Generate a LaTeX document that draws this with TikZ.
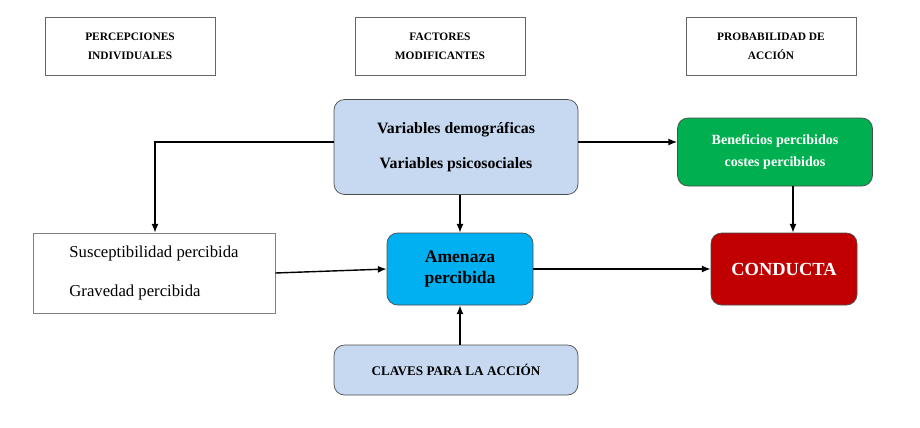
\documentclass[tikz,border=0pt]{standalone}
\usepackage{fontspec}
\setmainfont{Liberation Serif}
\usetikzlibrary{arrows.meta}
\definecolor{lblue}{RGB}{198,217,241}
\definecolor{cyanb}{RGB}{0,176,240}
\definecolor{greenb}{RGB}{0,176,80}
\definecolor{redb}{RGB}{192,0,0}
\tikzset{
  head/.style={draw=black!60,minimum width=170*0.02cm,minimum height=58*0.02cm,align=center,font=\fontsize{6.5}{11}\selectfont\bfseries},
  rbox/.style={draw=black!70,rounded corners=6pt,align=center,font=\fontsize{9}{12}\selectfont\bfseries},
  arr/.style={-{Latex[length=5pt,width=4pt]},thick}
}
\begin{document}
\begin{tikzpicture}[x=0.02cm,y=-0.02cm]
  \useasboundingbox (0,0) rectangle (920,427);
  %% headers
  \node[head] (h1) at (130,46) {PERCEPCIONES\\INDIVIDUALES};
  \node[head] (h2) at (440,46) {FACTORES\\MODIFICANTES};
  \node[head] (h3) at (771,46) {PROBABILIDAD DE\\ACCIÓN};
  %% boxes
  \node[rbox,fill=lblue,minimum width=244*0.02cm,minimum height=95*0.02cm] (dem) at (456,147)
    {Variables demográficas\\[8pt]Variables psicosociales};
  \node[rbox,fill=greenb,text=white,minimum width=195*0.02cm,minimum height=68*0.02cm,font=\fontsize{8}{12}\selectfont\bfseries] (ben) at (775,152)
    {B\textsc{eneficios percibidos}\\\textsc{costes percibidos}};
  \node[draw=black!50,minimum width=242*0.02cm,minimum height=80*0.02cm,align=left,font=\fontsize{9.5}{12}\selectfont] (sus) at (154,273)
    {Susceptibilidad percibida\\[10pt]Gravedad percibida};
  \node[rbox,fill=cyanb,minimum width=146*0.02cm,minimum height=72*0.02cm,font=\fontsize{10}{12}\selectfont\bfseries] (ame) at (460,269)
    {Amenaza\\percibida};
  \node[rbox,fill=redb,text=white,minimum width=146*0.02cm,minimum height=72*0.02cm,font=\fontsize{10.5}{12}\selectfont\bfseries] (con) at (784,269)
    {CONDUCTA};
  \node[rbox,fill=lblue,minimum width=244*0.02cm,minimum height=50*0.02cm,font=\fontsize{7.5}{10}\selectfont\bfseries] (cla) at (456,370)
    {CLAVES PARA LA ACCIÓN};
  %% arrows
  \draw[arr] (dem.west |- 0,142) -| (sus.north -| 155,0);
  \draw[arr] (dem.east |- 0,142) -- (ben.west |- 0,142);
  \draw[arr] (dem.south -| ame) -- (ame.north);
  \draw[arr] (ben.south -| 793,0) -- (con.north -| 793,0);
  \draw[arr] (sus.east) -- (ame.west);
  \draw[arr] (ame.east) -- (con.west);
  \draw[arr] (cla.north -| ame) -- (ame.south);
\end{tikzpicture}
\end{document}
